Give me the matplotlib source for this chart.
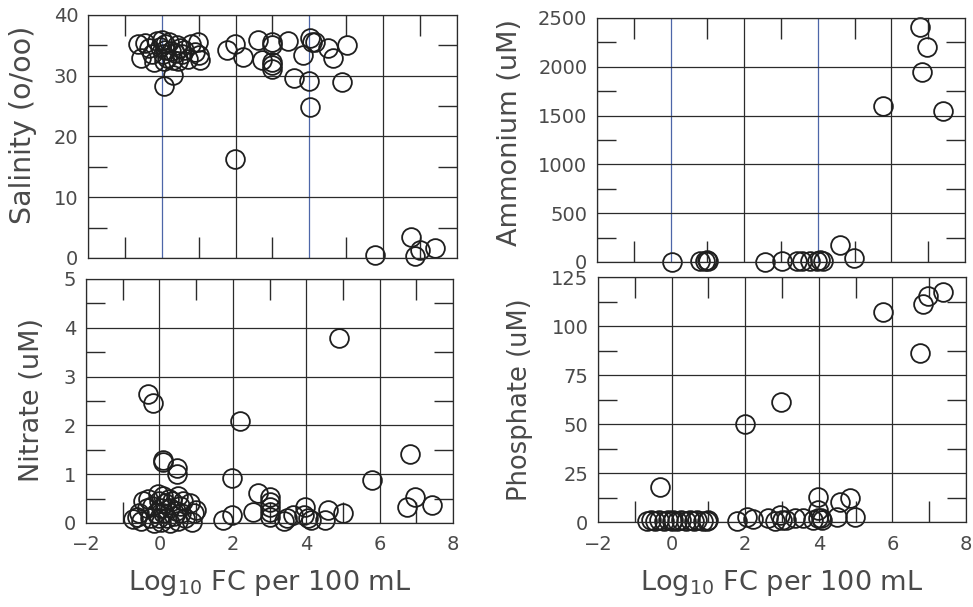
import numpy as np
import matplotlib
matplotlib.use("Agg")
import matplotlib.pyplot as plt
from matplotlib.ticker import MultipleLocator

plt.rcParams['font.family'] = ['DejaVu Sans']
plt.rcParams['mathtext.default'] = 'regular'

# Salinity (o/oo) vs log10 FC
sal_x = [-0.64, -0.55, -0.45, -0.35, -0.27, -0.2, -0.13, -0.05, 0.0, 0.03, 0.05, 0.08,
         0.1, 0.15, 0.2, 0.25, 0.3, 0.35, 0.4, 0.45, 0.5, 0.55, 0.6, 0.7, 0.8, 0.9,
         0.98, 1.02, 1.04, 0.06, 0.3,
         1.76, 1.98, 2.19, 1.98, 2.62, 2.71, 2.99, 2.99, 3.0, 3.0, 3.0, 3.43, 3.58,
         3.84, 4.02, 4.06, 4.15, 4.0, 4.02, 4.51, 4.63, 4.88, 5.01,
         5.78, 6.75, 6.85, 7.0, 7.4]
sal_y = [35.2, 33.0, 35.4, 34.5, 33.5, 32.3, 35.8, 34.8, 35.9, 33.6, 32.5, 35.2,
         34.2, 33.0, 35.5, 34.0, 32.6, 33.8, 35.0, 32.4, 34.6, 33.5, 34.3, 32.8, 35.2, 33.9,
         35.6, 33.4, 32.6, 28.3, 30.1,
         34.2, 35.3, 33.1, 16.3, 35.9, 32.6, 35.5, 35.0, 32.3, 31.8, 31.1, 35.8, 29.7,
         33.4, 36.2, 35.6, 35.6, 29.2, 24.8, 34.5, 33.0, 29.0, 35.1,
         0.5, 3.4, 0.3, 1.3, 1.6]

# Ammonium (uM)
amm_x = [0.03, 0.8, 0.94, 1.02, 0.98, 2.57, 3.02, 3.43, 3.56, 3.79, 3.97, 4.06, 4.14,
         4.6, 4.98, 5.78, 6.78, 6.98, 6.84, 7.41]
amm_y = [3, 8, 12, 5, 20, 3, 13, 13, 5, 5, 10, 20, 15,
         170, 38, 1598, 2411, 2206, 1950, 1550]

# Nitrate (uM)
nit_x = [-0.72, -0.62, -0.55, -0.5, -0.45, -0.35, -0.3, -0.25, -0.2, -0.15, -0.1, -0.05,
         0.0, 0.0, 0.05, 0.05, 0.1, 0.1, 0.15, 0.2, 0.25, 0.3, 0.3, 0.35, 0.4, 0.45,
         0.5, 0.5, 0.55, 0.6, 0.65, 0.7, 0.83, 0.88, 0.95, 1.01,
         -0.3, -0.17, 0.09, 0.1, 0.47, 0.47,
         1.74, 1.97, 1.97, 2.2, 2.56, 2.69, 3.0, 3.0, 3.0, 3.0, 3.0, 3.4, 3.47, 3.65,
         3.95, 3.97, 4.04, 4.13, 4.51, 4.6, 4.89, 5.01,
         5.78, 6.74, 6.83, 6.96, 7.42]
nit_y = [0.08, 0.12, 0.2, 0.05, 0.45, 0.3, 0.5, 0.1, 0.35, 0.0, 0.2, 0.6,
         0.45, 0.1, 0.3, 0.02, 0.55, 0.2, 0.4, 0.1, 0.5, 0.3, 0.0, 0.45, 0.15, 0.25,
         0.55, 0.05, 0.35, 0.2, 0.45, 0.1, 0.4, 0.03, 0.2, 0.27,
         2.64, 2.45, 1.29, 1.24, 1.12, 1.0,
         0.06, 0.92, 0.16, 2.09, 0.23, 0.62, 0.54, 0.44, 0.33, 0.23, 0.13, 0.05, 0.1, 0.16,
         0.16, 0.33, 0.1, 0.06, 0.06, 0.27, 3.8, 0.2,
         0.88, 0.33, 1.41, 0.54, 0.37]

# Phosphate (uM)
pho_x = [-0.68, -0.55, -0.45, -0.33, -0.2, -0.1, 0.0, 0.05, 0.15, 0.25, 0.4, 0.5,
         0.6, 0.7, 0.85, 0.95, 1.0, -0.32,
         1.77, 2.04, 2.22, 2.63, 2.81, 2.95, 2.99, 3.1, 3.35, 3.58, 3.83,
         3.97, 3.99, 3.99, 4.06, 4.1, 4.49, 4.58, 4.85, 4.98,
         1.99, 2.97, 5.74, 6.75, 6.82, 6.96, 7.38]
pho_y = [0.5, 0.8, 0.3, 1.0, 0.5, 1.2, 0.4, 1.0, 0.6, 1.2, 0.5, 0.8,
         0.4, 1.0, 0.6, 0.3, 0.8, 18.0,
         0.3, 2.7, 1.5, 1.9, 0.5, 3.6, 1.0, 1.2, 1.9, 1.9, 1.0,
         2.0, 12.9, 6.0, 2.0, 1.0, 2.7, 10.4, 12.1, 2.7,
         49.8, 61.0, 107.3, 86.0, 111.0, 115.5, 117.2]

ink = '#2b2b2b'
text_col = '#4a4a4a'
blue = '#4d66a8'

fig = plt.figure(figsize=(9.73, 6.07), dpi=100)

panels = [
    # rect, x, y, ylim, ystep, label, label size, label coords, colored gridlines
    ([0.0904, 0.5750, 0.3793, 0.4003], sal_x, sal_y, 40, 10, 'Salinity (o/oo)', 20.5, (-0.176, 0.547), True),
    ([0.6136, 0.5684, 0.3782, 0.4020], amm_x, amm_y, 2500, 500, 'Ammonium (uM)', 19.5, (-0.236, 0.53), True),
    ([0.0884, 0.1384, 0.3772, 0.4020], nit_x, nit_y, 5, 1, 'Nitrate (uM)', 19.5, (-0.147, 0.504), False),
    ([0.6146, 0.1400, 0.3782, 0.4036], pho_x, pho_y, 125, 25, 'Phosphate (uM)', 18.5, (-0.212, 0.498), False),
]

for i, (rect, xs, ys, ymax, ystep, lab, lsize, lcoords, tinted) in enumerate(panels):
    ax = fig.add_axes(rect)
    ax.set_xlim(-2, 8)
    ax.set_ylim(0, ymax)
    ax.xaxis.set_major_locator(MultipleLocator(2))
    ax.xaxis.set_minor_locator(MultipleLocator(1))
    ax.yaxis.set_major_locator(MultipleLocator(ystep))
    ax.yaxis.set_minor_locator(MultipleLocator(ystep / 2))
    ax.grid(True, which='major', color=ink, linewidth=0.9)
    ax.set_axisbelow(True)
    if tinted:
        for tk, gl in zip(ax.get_xticks(), ax.get_xgridlines()):
            if tk in (0, 4):
                gl.set_color(blue)
    for sp in ax.spines.values():
        sp.set_color(ink)
        sp.set_linewidth(0.9)
    ax.tick_params(which='major', length=0, labelsize=14, labelcolor=text_col, pad=7)
    ax.tick_params(which='minor', direction='in', top=True, right=True,
                   color=ink, width=1.0)
    ax.tick_params(axis='x', which='minor', length=15)
    ax.tick_params(axis='y', which='minor', length=14)
    if i < 2:
        ax.tick_params(axis='x', which='major', labelbottom=False)
    else:
        ax.tick_params(axis='x', which='major', pad=9)
        ax.set_xlabel('Log$_{10}$ FC per 100 mL', fontsize=19.5, color=text_col, va='baseline')
        ax.xaxis.set_label_coords(0.5, -0.276)
    ax.plot(xs, ys, 'o', mfc='none', mec='#1e1e1e', ms=13.5, mew=1.3, clip_on=False)
    ax.set_ylabel(lab, fontsize=lsize, color=text_col, va='center')
    ax.yaxis.set_label_coords(*lcoords)

fig.savefig('out.png', dpi=100)
